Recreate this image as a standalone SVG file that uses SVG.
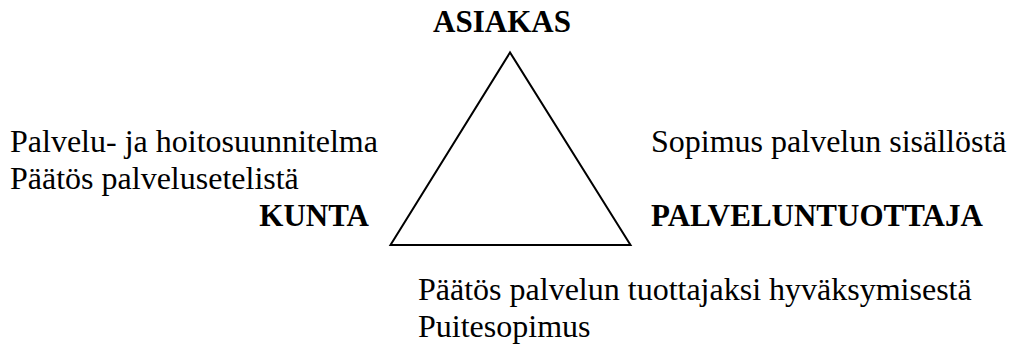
<svg xmlns="http://www.w3.org/2000/svg" width="1011" height="345" viewBox="0 0 1011 345">
<style>
text{font-family:'Liberation Serif','Times New Roman',serif;font-size:32px;fill:#000}
.b{font-weight:bold;font-size:31px}
</style>
<rect width="1011" height="345" fill="#fff"/>
<g id="connectors">
<polygon points="510,52.5 390.5,245 630.5,245" fill="none" stroke="#000" stroke-width="2"/>
</g>
<g id="asiakas"><text class="b" x="502" y="32" text-anchor="middle">ASIAKAS</text></g>
<g id="kunta">
<text x="10" y="152">Palvelu- ja hoitosuunnitelma</text>
<text x="10" y="189">Päätös palvelusetelistä</text>
<text class="b" x="369" y="226" text-anchor="end">KUNTA</text>
</g>
<g id="palveluntuottaja">
<text x="651" y="152">Sopimus palvelun sisällöstä</text>
<text class="b" x="651" y="226">PALVELUNTUOTTAJA</text>
</g>
<g id="bottom">
<text x="418" y="300">Päätös palvelun tuottajaksi hyväksymisestä</text>
<text x="418" y="337">Puitesopimus</text>
</g>
</svg>
